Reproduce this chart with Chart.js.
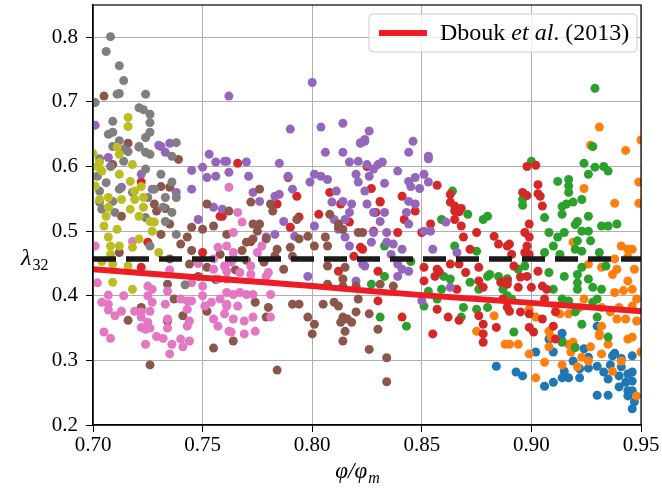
<!DOCTYPE html>
<html>
<head>
<meta charset="utf-8">
<script src="https://cdn.jsdelivr.net/npm/chart.js@4.4.1/dist/chart.umd.min.js"></script>
<style>
  html, body { margin: 0; padding: 0; background: #fff; }
  #wrap { width: 662px; height: 494px; }
</style>
</head>
<body>
<div id="wrap"><canvas id="myChart" width="662" height="494"></canvas></div>
<script>
// tick labels
const xTicks = [0.70, 0.75, 0.80, 0.85, 0.90, 0.95];
const yTicks = [0.2, 0.3, 0.4, 0.5, 0.6, 0.7, 0.8];

// reference curves
const dboukX = [0.70, 0.75, 0.80, 0.85, 0.90, 0.95];
const dboukY = [0.441, 0.428, 0.415, 0.401, 0.389, 0.376];
const meanX = [0.70, 0.95];
const meanY = [0.457, 0.457];

// scatter series, [phi/phi_m, lambda32]
const bluePts = [[0.884,0.291],[0.930,0.353],[0.914,0.330],[0.908,0.333],[0.902,0.313],[0.910,0.313],[0.914,0.342],[0.924,0.318],[0.919,0.299],[0.915,0.283],[0.917,0.273],[0.914,0.273],[0.922,0.273],[0.922,0.287],[0.926,0.288],[0.893,0.282],[0.896,0.276],[0.910,0.266],[0.906,0.260],[0.930,0.291],[0.933,0.282],[0.935,0.271],[0.937,0.307],[0.938,0.311],[0.936,0.293],[0.941,0.290],[0.940,0.276],[0.944,0.279],[0.946,0.282],[0.946,0.268],[0.943,0.266],[0.940,0.259],[0.944,0.253],[0.946,0.253],[0.944,0.245],[0.947,0.236],[0.946,0.225],[0.930,0.246],[0.935,0.246],[0.946,0.307],[0.941,0.303],[0.926,0.305]];
const orangePts = [[0.931,0.661],[0.950,0.641],[0.927,0.633],[0.943,0.625],[0.924,0.566],[0.938,0.543],[0.949,0.543],[0.949,0.576],[0.919,0.483],[0.941,0.477],[0.944,0.472],[0.946,0.472],[0.944,0.460],[0.938,0.457],[0.947,0.441],[0.939,0.441],[0.937,0.433],[0.932,0.444],[0.926,0.449],[0.944,0.423],[0.946,0.410],[0.942,0.408],[0.938,0.405],[0.948,0.395],[0.946,0.384],[0.940,0.382],[0.936,0.375],[0.939,0.364],[0.943,0.364],[0.948,0.361],[0.932,0.382],[0.924,0.395],[0.922,0.382],[0.917,0.372],[0.911,0.384],[0.913,0.372],[0.899,0.379],[0.902,0.367],[0.908,0.345],[0.909,0.336],[0.919,0.328],[0.931,0.341],[0.932,0.353],[0.890,0.325],[0.894,0.325],[0.899,0.310],[0.908,0.321],[0.917,0.325],[0.918,0.313],[0.927,0.321],[0.923,0.305],[0.926,0.299],[0.932,0.310],[0.931,0.338],[0.935,0.325],[0.944,0.333],[0.946,0.336],[0.906,0.297],[0.914,0.293],[0.921,0.290],[0.941,0.299],[0.937,0.283],[0.902,0.273],[0.948,0.245],[0.950,0.313],[0.883,0.369],[0.875,0.345],[0.888,0.325]];
const greenPts = [[0.864,0.562],[0.859,0.518],[0.871,0.526],[0.880,0.523],[0.878,0.518],[0.865,0.477],[0.875,0.469],[0.881,0.433],[0.880,0.430],[0.885,0.430],[0.889,0.426],[0.872,0.421],[0.876,0.410],[0.887,0.410],[0.863,0.426],[0.860,0.430],[0.859,0.410],[0.853,0.407],[0.857,0.395],[0.851,0.384],[0.869,0.382],[0.875,0.379],[0.880,0.382],[0.868,0.367],[0.843,0.353],[0.831,0.367],[0.827,0.418],[0.833,0.430],[0.833,0.477],[0.845,0.453],[0.889,0.400],[0.929,0.721],[0.928,0.631],[0.900,0.608],[0.924,0.605],[0.929,0.599],[0.933,0.600],[0.935,0.593],[0.926,0.588],[0.917,0.580],[0.912,0.577],[0.917,0.570],[0.917,0.560],[0.923,0.549],[0.916,0.542],[0.914,0.538],[0.896,0.549],[0.914,0.526],[0.906,0.521],[0.919,0.545],[0.926,0.523],[0.921,0.515],[0.920,0.510],[0.923,0.500],[0.926,0.500],[0.932,0.508],[0.935,0.508],[0.939,0.511],[0.908,0.498],[0.915,0.498],[0.912,0.491],[0.921,0.485],[0.927,0.485],[0.910,0.477],[0.920,0.472],[0.923,0.469],[0.906,0.467],[0.913,0.464],[0.931,0.467],[0.923,0.444],[0.934,0.446],[0.908,0.436],[0.915,0.430],[0.921,0.433],[0.926,0.426],[0.921,0.420],[0.928,0.413],[0.921,0.410],[0.932,0.410],[0.910,0.410],[0.889,0.426],[0.894,0.441],[0.897,0.446],[0.914,0.395],[0.917,0.392],[0.928,0.390],[0.930,0.395],[0.920,0.375],[0.930,0.367],[0.923,0.356],[0.935,0.336],[0.892,0.344],[0.891,0.395],[0.896,0.540],[0.920,0.320],[0.914,0.328]];
const redPts = [[0.722,0.576],[0.725,0.483],[0.758,0.523],[0.722,0.444],[0.750,0.467],[0.789,0.583],[0.793,0.554],[0.784,0.542],[0.759,0.523],[0.794,0.522],[0.790,0.506],[0.803,0.526],[0.808,0.560],[0.813,0.542],[0.817,0.514],[0.822,0.475],[0.819,0.461],[0.812,0.438],[0.772,0.484],[0.766,0.605],[0.825,0.600],[0.827,0.566],[0.831,0.546],[0.841,0.554],[0.857,0.571],[0.863,0.557],[0.863,0.545],[0.865,0.539],[0.868,0.535],[0.831,0.545],[0.842,0.518],[0.847,0.531],[0.854,0.511],[0.865,0.531],[0.867,0.530],[0.865,0.518],[0.868,0.508],[0.828,0.500],[0.839,0.498],[0.850,0.498],[0.869,0.491],[0.872,0.472],[0.875,0.498],[0.883,0.492],[0.885,0.480],[0.889,0.477],[0.823,0.472],[0.851,0.444],[0.857,0.441],[0.856,0.430],[0.858,0.437],[0.863,0.449],[0.867,0.449],[0.870,0.436],[0.876,0.444],[0.876,0.423],[0.878,0.413],[0.886,0.421],[0.889,0.423],[0.866,0.410],[0.830,0.438],[0.830,0.392],[0.851,0.423],[0.857,0.379],[0.862,0.367],[0.867,0.362],[0.876,0.369],[0.878,0.356],[0.878,0.341],[0.878,0.328],[0.884,0.351],[0.841,0.367],[0.855,0.341],[0.887,0.395],[0.889,0.382],[0.829,0.529],[0.898,0.600],[0.902,0.602],[0.896,0.560],[0.898,0.555],[0.903,0.572],[0.903,0.558],[0.904,0.554],[0.905,0.539],[0.899,0.511],[0.897,0.498],[0.899,0.491],[0.890,0.480],[0.898,0.477],[0.897,0.467],[0.899,0.464],[0.891,0.464],[0.892,0.446],[0.898,0.430],[0.895,0.429],[0.903,0.438],[0.889,0.418],[0.894,0.413],[0.900,0.413],[0.905,0.415],[0.907,0.410],[0.906,0.395],[0.890,0.376],[0.895,0.375],[0.899,0.372],[0.905,0.364],[0.911,0.375],[0.899,0.351],[0.901,0.344],[0.910,0.353],[0.911,0.333]];
const purplePts = [[0.800,0.730],[0.762,0.709],[0.790,0.658],[0.804,0.661],[0.814,0.667],[0.826,0.655],[0.824,0.642],[0.822,0.636],[0.730,0.633],[0.735,0.636],[0.701,0.664],[0.731,0.631],[0.733,0.622],[0.753,0.619],[0.756,0.607],[0.760,0.608],[0.745,0.594],[0.750,0.599],[0.762,0.591],[0.752,0.583],[0.756,0.585],[0.722,0.588],[0.727,0.565],[0.738,0.560],[0.745,0.565],[0.713,0.568],[0.755,0.537],[0.748,0.518],[0.707,0.614],[0.761,0.608],[0.770,0.607],[0.785,0.605],[0.771,0.585],[0.789,0.585],[0.773,0.560],[0.776,0.546],[0.783,0.554],[0.785,0.557],[0.791,0.565],[0.799,0.576],[0.801,0.588],[0.804,0.585],[0.807,0.580],[0.806,0.622],[0.814,0.622],[0.817,0.607],[0.821,0.608],[0.822,0.637],[0.824,0.639],[0.820,0.588],[0.821,0.576],[0.824,0.562],[0.811,0.562],[0.809,0.545],[0.814,0.546],[0.818,0.542],[0.817,0.529],[0.810,0.518],[0.815,0.518],[0.812,0.503],[0.815,0.491],[0.817,0.477],[0.787,0.515],[0.801,0.508],[0.792,0.492],[0.779,0.491],[0.783,0.495],[0.759,0.534],[0.798,0.430],[0.824,0.446],[0.820,0.423],[0.846,0.639],[0.844,0.622],[0.853,0.616],[0.853,0.612],[0.832,0.607],[0.830,0.603],[0.825,0.603],[0.828,0.596],[0.839,0.593],[0.826,0.585],[0.847,0.583],[0.851,0.588],[0.844,0.577],[0.853,0.576],[0.833,0.574],[0.845,0.569],[0.849,0.566],[0.844,0.546],[0.847,0.542],[0.825,0.542],[0.828,0.529],[0.833,0.529],[0.843,0.529],[0.844,0.511],[0.831,0.515],[0.828,0.498],[0.834,0.498],[0.851,0.500],[0.854,0.500],[0.861,0.514],[0.827,0.483],[0.834,0.483],[0.837,0.480],[0.841,0.472],[0.836,0.464],[0.839,0.449],[0.841,0.441],[0.844,0.438],[0.823,0.449],[0.839,0.430],[0.855,0.472],[0.863,0.413],[0.866,0.467],[0.850,0.392]];
const brownPts = [[0.705,0.709],[0.716,0.636],[0.716,0.362],[0.722,0.382],[0.726,0.293],[0.734,0.361],[0.737,0.395],[0.741,0.369],[0.755,0.319],[0.752,0.376],[0.734,0.418],[0.739,0.611],[0.709,0.603],[0.731,0.569],[0.735,0.568],[0.728,0.542],[0.729,0.531],[0.733,0.535],[0.713,0.523],[0.735,0.511],[0.752,0.542],[0.731,0.495],[0.743,0.491],[0.745,0.506],[0.750,0.503],[0.755,0.508],[0.761,0.495],[0.712,0.467],[0.735,0.457],[0.744,0.449],[0.752,0.444],[0.758,0.464],[0.764,0.457],[0.776,0.565],[0.772,0.545],[0.781,0.542],[0.782,0.531],[0.762,0.531],[0.793,0.518],[0.773,0.511],[0.776,0.511],[0.775,0.500],[0.773,0.488],[0.779,0.488],[0.770,0.483],[0.784,0.472],[0.790,0.475],[0.791,0.461],[0.787,0.441],[0.794,0.488],[0.798,0.492],[0.806,0.491],[0.801,0.477],[0.807,0.477],[0.808,0.526],[0.812,0.511],[0.812,0.506],[0.814,0.503],[0.821,0.498],[0.807,0.446],[0.815,0.444],[0.814,0.426],[0.820,0.415],[0.791,0.387],[0.794,0.387],[0.798,0.367],[0.801,0.356],[0.800,0.341],[0.805,0.387],[0.810,0.390],[0.812,0.384],[0.814,0.367],[0.816,0.364],[0.818,0.359],[0.813,0.359],[0.815,0.345],[0.814,0.330],[0.820,0.375],[0.821,0.395],[0.814,0.415],[0.807,0.418],[0.826,0.372],[0.826,0.317],[0.784,0.285],[0.780,0.382],[0.779,0.367],[0.774,0.390],[0.764,0.330],[0.830,0.348],[0.831,0.418],[0.837,0.415],[0.823,0.498],[0.834,0.304],[0.834,0.267],[0.748,0.430],[0.756,0.425],[0.765,0.440],[0.770,0.455],[0.778,0.452],[0.783,0.462],[0.768,0.470],[0.745,0.470],[0.740,0.480]];
const pinkPts = [[0.707,0.401],[0.704,0.390],[0.707,0.387],[0.707,0.378],[0.713,0.376],[0.710,0.369],[0.714,0.400],[0.725,0.415],[0.727,0.410],[0.725,0.400],[0.727,0.390],[0.719,0.376],[0.722,0.375],[0.726,0.376],[0.722,0.367],[0.725,0.359],[0.722,0.351],[0.724,0.348],[0.726,0.350],[0.705,0.344],[0.708,0.334],[0.729,0.337],[0.732,0.334],[0.724,0.325],[0.734,0.350],[0.734,0.364],[0.733,0.387],[0.734,0.407],[0.736,0.325],[0.735,0.310],[0.740,0.333],[0.741,0.321],[0.744,0.330],[0.743,0.353],[0.744,0.361],[0.743,0.379],[0.743,0.392],[0.745,0.392],[0.750,0.400],[0.751,0.384],[0.754,0.390],[0.755,0.364],[0.757,0.353],[0.760,0.372],[0.761,0.384],[0.762,0.345],[0.701,0.477],[0.718,0.484],[0.762,0.568],[0.757,0.475],[0.755,0.457],[0.755,0.441],[0.760,0.446],[0.757,0.426],[0.761,0.426],[0.766,0.529],[0.768,0.514],[0.764,0.498],[0.761,0.477],[0.764,0.467],[0.763,0.452],[0.772,0.446],[0.777,0.477],[0.775,0.467],[0.780,0.436],[0.779,0.430],[0.772,0.433],[0.767,0.436],[0.761,0.438],[0.761,0.405],[0.764,0.402],[0.767,0.405],[0.770,0.402],[0.773,0.402],[0.761,0.387],[0.766,0.384],[0.764,0.364],[0.769,0.361],[0.773,0.367],[0.781,0.367],[0.781,0.402],[0.763,0.344],[0.769,0.341],[0.774,0.345],[0.702,0.420],[0.745,0.420],[0.750,0.415],[0.740,0.395],[0.758,0.395],[0.735,0.440],[0.748,0.450]];
const grayPts = [[0.708,0.801],[0.706,0.778],[0.712,0.756],[0.714,0.733],[0.712,0.713],[0.711,0.712],[0.724,0.712],[0.701,0.699],[0.721,0.691],[0.723,0.688],[0.726,0.681],[0.726,0.668],[0.709,0.670],[0.726,0.653],[0.707,0.650],[0.709,0.653],[0.724,0.645],[0.738,0.637],[0.721,0.631],[0.709,0.631],[0.714,0.627],[0.721,0.630],[0.724,0.622],[0.726,0.619],[0.716,0.623],[0.736,0.616],[0.714,0.608],[0.708,0.600],[0.724,0.596],[0.731,0.588],[0.736,0.576],[0.703,0.562],[0.725,0.552],[0.733,0.552],[0.738,0.552],[0.709,0.546],[0.704,0.534],[0.710,0.529],[0.732,0.537],[0.736,0.529],[0.724,0.521],[0.733,0.515],[0.738,0.495],[0.726,0.477],[0.742,0.417],[0.702,0.585],[0.706,0.575],[0.703,0.545],[0.712,0.565],[0.718,0.560],[0.728,0.565],[0.703,0.612],[0.712,0.640]];
const olivePts = [[0.716,0.676],[0.716,0.662],[0.711,0.630],[0.712,0.619],[0.703,0.607],[0.704,0.593],[0.718,0.603],[0.712,0.588],[0.717,0.577],[0.722,0.569],[0.719,0.562],[0.703,0.549],[0.707,0.552],[0.713,0.549],[0.719,0.549],[0.723,0.552],[0.707,0.537],[0.717,0.534],[0.723,0.537],[0.706,0.523],[0.721,0.523],[0.726,0.515],[0.728,0.514],[0.705,0.508],[0.711,0.503],[0.727,0.500],[0.707,0.491],[0.721,0.488],[0.708,0.477],[0.712,0.477],[0.718,0.475],[0.730,0.467],[0.708,0.464],[0.704,0.453],[0.716,0.446],[0.709,0.449],[0.709,0.421],[0.718,0.410],[0.700,0.620],[0.701,0.570],[0.702,0.600]];

const serif = "'Liberation Serif', 'DejaVu Serif', serif";

function toXY(pts) {
    return pts.map(p => ({ x: p[0], y: p[1] }));
}

function scatterSet(pts, color, order) {
    return {
        type: 'scatter',
        data: toXY(pts),
        backgroundColor: color,
        borderWidth: 0,
        pointRadius: 4.5,
        pointHoverRadius: 4.5,
        order: order,
        clip: 0
    };
}

// frame, legend and math-style axis titles
const decorPlugin = {
    id: 'decor',
    afterDatasetsDraw(chart) {
        const ctx = chart.ctx;
        const a = chart.chartArea;
        ctx.save();
        ctx.strokeStyle = '#000';
        ctx.lineWidth = 1.2;
        ctx.strokeRect(a.left, a.top, a.right - a.left, a.bottom - a.top);

        // legend box
        const bw = 268, bh = 38;
        const bx = a.right - bw - 4, by = a.top + 9;
        ctx.beginPath();
        ctx.roundRect(bx, by, bw, bh, 4);
        ctx.fillStyle = 'rgba(255,255,255,0.8)';
        ctx.fill();
        ctx.strokeStyle = '#cccccc';
        ctx.lineWidth = 1;
        ctx.stroke();
        const line = chart.data.datasets[0];
        ctx.beginPath();
        ctx.moveTo(bx + 10, by + bh / 2);
        ctx.lineTo(bx + 58, by + bh / 2);
        ctx.strokeStyle = line.borderColor;
        ctx.lineWidth = line.borderWidth;
        ctx.stroke();
        ctx.fillStyle = '#000';
        ctx.textBaseline = 'middle';
        let tx = bx + 71;
        const parts = [['Dbouk ', ''], ['et al', 'italic '], ['. (2013)', '']];
        parts.forEach(p => {
            ctx.font = p[1] + '24px ' + serif;
            ctx.fillText(p[0], tx, by + bh / 2 + 1);
            tx += ctx.measureText(p[0]).width;
        });

        // y title: lambda_32
        ctx.textBaseline = 'alphabetic';
        const ly = a.top + (a.bottom - a.top) * 0.62;
        ctx.font = 'italic 24px ' + serif;
        ctx.fillText('λ', 21, ly);
        let w = ctx.measureText('λ').width;
        ctx.font = '16px ' + serif;
        ctx.fillText('32', 21 + w + 1, ly + 5);

        // x title: phi / phi_m
        ctx.font = 'italic 23px ' + serif;
        const s1 = 'φ/φ';
        const w1 = ctx.measureText(s1).width;
        ctx.font = 'italic 16px ' + serif;
        const w2 = ctx.measureText('m').width;
        const cx = (a.left + a.right) / 2 - (w1 + w2) / 2 - 10;
        ctx.font = 'italic 23px ' + serif;
        ctx.fillText(s1, cx, a.bottom + 53);
        ctx.font = 'italic 16px ' + serif;
        ctx.fillText('m', cx + w1 + 1, a.bottom + 58);
        ctx.restore();
    }
};

document.addEventListener('DOMContentLoaded', function() {
    const ctx = document.getElementById('myChart').getContext('2d');
    const myChart = new Chart(ctx, {
        data: {
            datasets: [
                {
                    type: 'line',
                    label: 'Dbouk et al. (2013)',
                    data: dboukX.map((x, i) => ({ x: x, y: dboukY[i] })),
                    borderColor: '#ee1c25',
                    borderWidth: 6,
                    pointRadius: 0,
                    tension: 0.4,
                    fill: false,
                    order: 0
                },
                {
                    type: 'line',
                    label: 'mean',
                    data: meanX.map((x, i) => ({ x: x, y: meanY[i] })),
                    borderColor: '#1a1a1a',
                    borderWidth: 5.5,
                    borderDash: [23, 10],
                    borderCapStyle: 'butt',
                    pointRadius: 0,
                    fill: false,
                    order: 1
                },
                scatterSet(olivePts, '#bcbd22', 2),
                scatterSet(grayPts, '#7f7f7f', 3),
                scatterSet(pinkPts, '#e377c2', 4),
                scatterSet(brownPts, '#8c564b', 5),
                scatterSet(purplePts, '#9467bd', 6),
                scatterSet(redPts, '#d62728', 7),
                scatterSet(greenPts, '#2ca02c', 8),
                scatterSet(orangePts, '#ff7f0e', 9),
                scatterSet(bluePts, '#1f77b4', 10)
            ]
        },
        options: {
            responsive: false,
            animation: false,
            layout: { padding: { left: 0, right: 21, top: 5, bottom: 0 } },
            plugins: {
                legend: { display: false },
                tooltip: { enabled: false }
            },
            scales: {
                x: {
                    type: 'linear',
                    min: 0.70,
                    max: 0.95,
                    afterBuildTicks: s => { s.ticks = xTicks.map(v => ({ value: v })); },
                    afterFit: s => { s.height = 69; s.paddingLeft = 0; s.paddingRight = 0; },
                    ticks: {
                        callback: v => v.toFixed(2),
                        color: '#000',
                        font: { family: serif, size: 21 },
                        padding: 1,
                        maxRotation: 0
                    },
                    grid: { color: '#b0b0b0', lineWidth: 1, tickLength: 7, tickColor: '#000' },
                    border: { color: '#000', width: 1.2 }
                },
                y: {
                    type: 'linear',
                    min: 0.2,
                    max: 0.85,
                    afterBuildTicks: s => { s.ticks = yTicks.map(v => ({ value: v })); },
                    afterFit: s => { s.width = 93; s.paddingTop = 0; s.paddingBottom = 0; },
                    ticks: {
                        callback: v => v.toFixed(1),
                        color: '#000',
                        font: { family: serif, size: 21 },
                        padding: 8
                    },
                    grid: { color: '#b0b0b0', lineWidth: 1, tickLength: 7, tickColor: '#000' },
                    border: { color: '#000', width: 1.2 }
                }
            }
        },
        plugins: [decorPlugin]
    });
});
</script>
</body>
</html>
